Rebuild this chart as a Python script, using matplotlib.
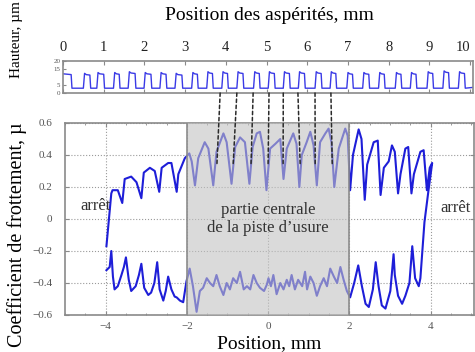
import numpy as np
import matplotlib
matplotlib.use("Agg")
import matplotlib.pyplot as plt
from matplotlib.patches import ConnectionPatch

plt.rcParams['font.family'] = ['Liberation Serif', 'DejaVu Serif']

# friction loop: forward pass (upper), reversal at +4, return pass (lower)
pos_mm = [-3.98, -3.86, -3.83, -3.70, -3.59, -3.53, -3.37, -3.24, -3.12, -3.06,
          -2.91, -2.79, -2.68, -2.62, -2.46, -2.38, -2.25, -2.21, -2.13, -2.05,
          -1.94, -1.88, -1.80, -1.72, -1.56, -1.47, -1.35, -1.27, -1.10, -1.02,
          -0.90, -0.81, -0.69, -0.57, -0.46, -0.38, -0.28, -0.20, -0.12, -0.04,
          0.05, 0.18, 0.30, 0.38, 0.46, 0.62, 0.70, 0.77, 0.83, 0.95,
          1.04, 1.12, 1.20, 1.28, 1.41, 1.49, 1.56, 1.63, 1.74, 1.90,
          1.96, 2.02, 2.09, 2.23, 2.30, 2.38, 2.44, 2.60, 2.70, 2.77,
          2.85, 2.97, 3.05, 3.12, 3.20, 3.26, 3.38, 3.45, 3.53, 3.59,
          3.75, 3.83, 3.91, 3.98, 4.04,
          3.95, 3.85, 3.75, 3.71,
          3.62, 3.55, 3.48, 3.38, 3.30, 3.20, 3.12, 3.09, 3.01, 2.89,
          2.80, 2.72, 2.65, 2.58, 2.48, 2.40, 2.31, 2.22, 2.12, 2.02,
          1.94, 1.86, 1.78, 1.70, 1.62, 1.53, 1.45, 1.37, 1.28, 1.20,
          1.12, 1.04, 0.96, 0.91, 0.84, 0.74, 0.66, 0.58, 0.52, 0.46,
          0.38, 0.30, 0.21, 0.13, 0.07, 0.01, -0.03, -0.10, -0.20, -0.28,
          -0.36, -0.44, -0.52, -0.60, -0.69, -0.77, -0.86, -0.94, -1.02, -1.10,
          -1.19, -1.27, -1.35, -1.43, -1.51, -1.60, -1.68, -1.76, -1.85, -1.93,
          -2.01, -2.09, -2.17, -2.25, -2.30, -2.38, -2.46, -2.52, -2.58, -2.67,
          -2.73, -2.80, -2.88, -2.95, -3.05, -3.12, -3.18, -3.26, -3.37, -3.43,
          -3.50, -3.55, -3.61, -3.70, -3.78, -3.82, -3.86, -3.90, -3.98]
mu = [-0.17, 0.16, 0.18, 0.18, 0.10, 0.25, 0.265, 0.23, 0.13, 0.29,
      0.32, 0.30, 0.17, 0.32, 0.35, 0.35, 0.17, 0.28, 0.33, 0.38,
      0.41, 0.36, 0.21, 0.38, 0.48, 0.44, 0.21, 0.42, 0.535, 0.48,
      0.22, 0.45, 0.51, 0.48, 0.22, 0.45, 0.535, 0.545, 0.44, 0.18,
      0.44, 0.47, 0.50, 0.25, 0.44, 0.535, 0.47, 0.20, 0.40, 0.48,
      0.545, 0.46, 0.21, 0.48, 0.535, 0.565, 0.48, 0.20, 0.44, 0.565,
      0.52, 0.18, 0.40, 0.56, 0.50, 0.12, 0.34, 0.48, 0.49, 0.15,
      0.32, 0.36, 0.46, 0.42, 0.16, 0.28, 0.44, 0.45, 0.16, 0.28,
      0.42, 0.43, 0.18, 0.32, 0.35,
      0.18, -0.02, -0.37, -0.42,
      -0.37, -0.17, -0.40, -0.48, -0.53, -0.48, -0.35, -0.22, -0.45, -0.56,
      -0.54, -0.42, -0.27, -0.44, -0.55, -0.53, -0.42, -0.29, -0.40, -0.49,
      -0.45, -0.38, -0.30, -0.40, -0.36, -0.31, -0.42, -0.37, -0.42, -0.48,
      -0.40, -0.36, -0.44, -0.33, -0.42, -0.38, -0.44, -0.35, -0.42, -0.38,
      -0.44, -0.40, -0.47, -0.35, -0.42, -0.37, -0.41, -0.45, -0.43, -0.40,
      -0.35, -0.44, -0.42, -0.44, -0.33, -0.40, -0.37, -0.44, -0.40, -0.475,
      -0.42, -0.35, -0.42, -0.40, -0.37, -0.43, -0.45, -0.58, -0.42, -0.31,
      -0.39, -0.52, -0.51, -0.49, -0.485, -0.44, -0.36, -0.45, -0.51, -0.44,
      -0.27, -0.40, -0.46, -0.475, -0.43, -0.28, -0.35, -0.42, -0.45, -0.38,
      -0.24, -0.30, -0.35, -0.42, -0.44, -0.36, -0.20, -0.30, -0.32]

# asperity profile (top panel): rising / falling edges in mm, heights in um
asp_rise = [0.50, 0.83, 1.24, 1.60, 1.99, 2.38, 2.75, 3.16, 3.53, 3.90, 4.27,
            4.68, 5.04, 5.41, 5.78, 6.19, 6.56, 6.97, 7.36, 7.75, 8.16, 8.53,
            8.94, 9.33, 9.71]
asp_fall = [0.68, 1.02, 1.40, 1.79, 2.18, 2.55, 2.94, 3.32, 3.69, 4.06, 4.44,
            4.84, 5.21, 5.58, 5.95, 6.36, 6.72, 7.13, 7.53, 7.91, 8.32, 8.69,
            9.10, 9.49, 9.88]
asp_top = [11.5, 12, 12, 12.5, 12, 12, 11.5, 12, 12.5, 12.5, 12.5,
           12.5, 12.5, 12.5, 12.5, 12.5, 12.5, 12, 12, 12, 12, 12,
           12.5, 13, 12.5]
base_level = 3.0

# dashed links: asperity position (top) -> position on track (bottom)
link_top = [3.86, 4.27, 4.67, 5.06, 5.41, 5.77, 6.19, 6.58]
link_bottom = [-1.26, -0.86, -0.42, 0.0, 0.37, 0.79, 1.16, 1.58]
link_mu = 0.34

# build top profile path
prof_x = [0.0, 0.20, 0.22]
prof_y = [12.0, 11.5, base_level]
for r, f, h in zip(asp_rise, asp_fall, asp_top):
    prof_x += [r, r + 0.03, r + 0.07, f - 0.02, f]
    prof_y += [base_level, h + 0.8, h, h - 0.3, base_level]
prof_x += [10.07]
prof_y += [base_level + 0.5]

fig = plt.figure(figsize=(4.75, 3.52), dpi=100)
ax = fig.add_axes([65 / 475, 1 - 315 / 352, 409 / 475, 192 / 352])
axt = fig.add_axes([63 / 475, 1 - 93 / 352, 410 / 475, 32 / 352])

spine_col = '#8a8a8a'
blue = '#1e1ed8'

# main panel
ax.plot(pos_mm, mu, color=blue, lw=1.5, zorder=2)
ax.axvspan(-2, 2, facecolor='#c2c2c2', alpha=0.6, lw=0, zorder=3)
ax.axvline(-2, color='#8c8c8c', lw=1.2, zorder=4)
ax.axvline(2, color='#8c8c8c', lw=1.2, zorder=4)
ax.set_xlim(-5.0, 5.07)
ax.set_ylim(-0.6, 0.6)
ax.set_xticks([-4, -2, 0, 2, 4])
ax.set_xticklabels(['\u22124', '\u22122', '0', '2', '4'])
ax.set_yticks([-0.6, -0.4, -0.2, 0, 0.2, 0.4, 0.6])
ax.set_yticklabels(['\u22120.6', '\u22120.4', '\u22120.2', '0', '0.2', '0.4', '0.6'])
ax.set_xticks(np.arange(-5, 5.01, 0.5), minor=True)
ax.grid(True, linestyle=':', color='#9a9a9a', lw=0.8, zorder=1)
ax.tick_params(which='both', direction='in', colors=spine_col, top=True, right=True,
               labelcolor='#555555', labelsize=8)
ax.tick_params(which='major', length=3)
ax.tick_params(which='minor', length=1.5)
ax.tick_params(axis='y', pad=9)
ax.tick_params(axis='x', pad=5)
for s in ax.spines.values():
    s.set_color(spine_col)
    s.set_linewidth(1.2)

ax.text(-4.25, 0.08, 'arr\u00eat', ha='center', va='center', fontsize=12,
        color='#333333', zorder=5)
ax.text(4.98, 0.07, 'arr\u00eat', ha='right', va='center', fontsize=12,
        color='#333333', zorder=5)
ax.text(0, 0.0, 'partie centrale\nde la piste d\u2019usure', ha='center', va='center',
        fontsize=12, color='#333333', linespacing=1.15, zorder=5)
ax.set_xlabel('Position, mm', fontsize=14, labelpad=3)
fig.text(17 / 475, 1 - 235 / 352, 'Coefficient de frottement, \u00b5', rotation=90,
         ha='center', va='center', fontsize=14.5)

# top panel
axt.plot(prof_x, prof_y, color='#3a3ae6', lw=1.0)
axt.set_xlim(0, 10.07)
axt.set_ylim(0, 20)
axt.set_xticks(range(0, 11))
axt.set_yticks([0, 5, 15, 20])
axt.xaxis.tick_top()
axt.tick_params(axis='x', direction='in', colors=spine_col, labelcolor='#222222',
                labelsize=10.5, top=True, bottom=True, length=3, pad=5)
axt.tick_params(axis='y', direction='in', colors=spine_col, labelcolor='#555555',
                labelsize=5, length=2, pad=2)
axt.get_xticklabels()[-1].set_horizontalalignment('right')
for s in axt.spines.values():
    s.set_color(spine_col)
    s.set_linewidth(1.2)
fig.text(0.5 + 32 / 475, 1 - 16 / 352, 'Position des asp\u00e9rit\u00e9s, mm',
         ha='center', va='center', fontsize=14)
fig.text(17 / 475, 1 - 40 / 352, 'Hauteur, \u00b5m', rotation=90,
         ha='center', va='center', fontsize=11)

for xt, xb in zip(link_top, link_bottom):
    con = ConnectionPatch(xyA=(xt, 0), coordsA=axt.transData,
                          xyB=(xb, link_mu), coordsB=ax.transData,
                          linestyle=(0, (2.2, 1.8)), color='#2a2a2a', lw=1.1)
    fig.add_artist(con)

fig.savefig('out.png', dpi=100)
